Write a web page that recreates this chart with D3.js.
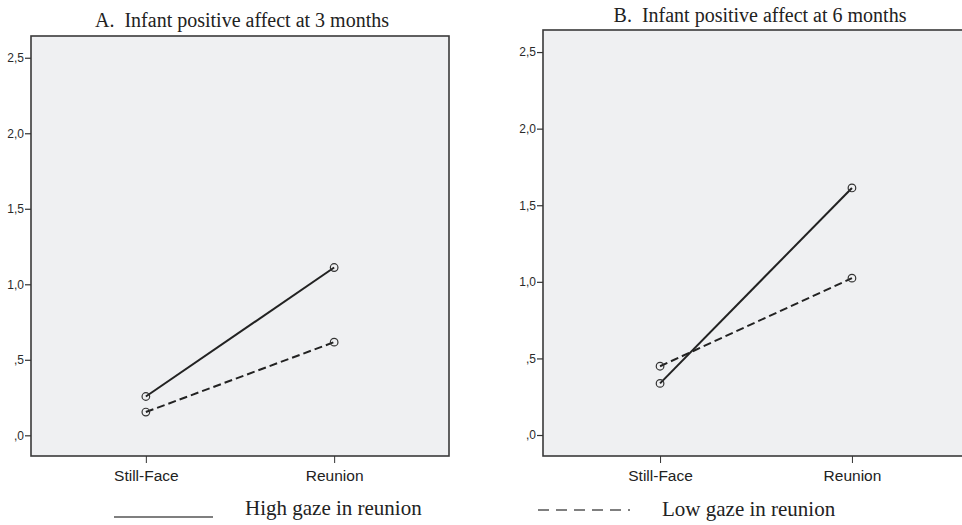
<!DOCTYPE html>
<html>
<head>
<meta charset="utf-8">
<script src="https://cdn.jsdelivr.net/npm/d3@7"></script>
<style>
  body { margin: 0; background: #fff; }
  svg { display: block; }
</style>
</head>
<body>
<div id="chart"></div>
<script>
// Data
const conditions = ["Still-Face", "Reunion"];
const yTicks = [0, 0.5, 1.0, 1.5, 2.0, 2.5];
const high3 = [0.257, 1.111];
const low3 = [0.154, 0.617];
const high6 = [0.337, 1.613];
const low6 = [0.449, 1.024];
const titles = ["A.  Infant positive affect at 3 months", "B.  Infant positive affect at 6 months"];
const legendLabels = ["High gaze in reunion", "Low gaze in reunion"];

const W = 962, H = 525;
const svg = d3.select('#chart').append('svg')
  .attr('width', W)
  .attr('height', H);

// panel boxes (right panel runs off the edge of the picture)
const panels = [
  { title: titles[0], high: high3, low: low3, x0: 31, x1: 449, y0: 36, y1: 456, titleX: 242, titleY: 27 },
  { title: titles[1], high: high6, low: low6, x0: 543, x1: 969, y0: 30, y1: 456, titleX: 760, titleY: 22 }
];

// ",5" / "1,0" style tick labels
const fmt = v => d3.format(".1f")(v).replace(/^0\./, ".").replace(".", ",");

panels.forEach(p => {
  const x = d3.scalePoint().domain(conditions).range([p.x0, p.x1]).padding(0.61);
  const y = d3.scaleLinear().domain([-0.137, 2.644]).range([p.y1, p.y0]);

  svg.append('rect')
    .attr('x', p.x0).attr('y', p.y0)
    .attr('width', p.x1 - p.x0).attr('height', p.y1 - p.y0)
    .attr('fill', '#eff0f2')
    .attr('stroke', '#3a3a3a')
    .attr('stroke-width', 1.6);

  // y axis
  const ya = svg.append('g')
    .attr('transform', `translate(${p.x0},0)`)
    .call(d3.axisLeft(y).tickValues(yTicks).tickFormat(fmt).tickSize(6).tickPadding(1));
  ya.select('.domain').remove();
  ya.selectAll('line').attr('stroke', '#333').attr('stroke-width', 1.2);
  ya.selectAll('text')
    .attr('fill', '#2a2a2a')
    .style('font-family', '"Liberation Sans", Arial, sans-serif')
    .style('font-size', '12px');

  // x axis
  const xa = svg.append('g')
    .attr('transform', `translate(0,${p.y1})`)
    .call(d3.axisBottom(x).tickSize(7).tickPadding(7));
  xa.select('.domain').remove();
  xa.selectAll('line').attr('stroke', '#333').attr('stroke-width', 1);
  xa.selectAll('text')
    .attr('fill', '#222')
    .style('font-family', '"Liberation Sans", Arial, sans-serif')
    .style('font-size', '15.5px');

  const line = d3.line()
    .x((d, i) => x(conditions[i]))
    .y(d => y(d));

  [
    { vals: p.low, dash: '8,4' },
    { vals: p.high, dash: null }
  ].forEach(s => {
    svg.append('path')
      .datum(s.vals)
      .attr('d', line)
      .attr('fill', 'none')
      .attr('stroke', '#222')
      .attr('stroke-width', 2)
      .attr('stroke-dasharray', s.dash);

    svg.selectAll(null)
      .data(s.vals)
      .enter().append('circle')
      .attr('cx', (d, i) => x(conditions[i]))
      .attr('cy', d => y(d))
      .attr('r', 3.8)
      .attr('fill', 'none')
      .attr('stroke', '#333')
      .attr('stroke-width', 1.2);
  });

  svg.append('text')
    .attr('x', p.titleX)
    .attr('y', p.titleY)
    .attr('text-anchor', 'middle')
    .attr('fill', '#222')
    .style('font-family', '"Liberation Serif", "Times New Roman", serif')
    .style('font-size', '20px')
    .style('white-space', 'pre')
    .text(p.title);
});

// Legend
svg.append('line')
  .attr('x1', 114).attr('x2', 213)
  .attr('y1', 517).attr('y2', 517)
  .attr('stroke', '#555')
  .attr('stroke-width', 1.5);
svg.append('text')
  .attr('x', 245).attr('y', 515)
  .attr('fill', '#222')
  .style('font-family', '"Liberation Serif", "Times New Roman", serif')
  .style('font-size', '21px')
  .text(legendLabels[0]);

svg.append('line')
  .attr('x1', 538).attr('x2', 630)
  .attr('y1', 510).attr('y2', 510)
  .attr('stroke', '#555')
  .attr('stroke-width', 1.3)
  .attr('stroke-dasharray', '11,7');
svg.append('text')
  .attr('x', 662).attr('y', 516)
  .attr('fill', '#222')
  .style('font-family', '"Liberation Serif", "Times New Roman", serif')
  .style('font-size', '21px')
  .text(legendLabels[1]);
</script>
</body>
</html>
